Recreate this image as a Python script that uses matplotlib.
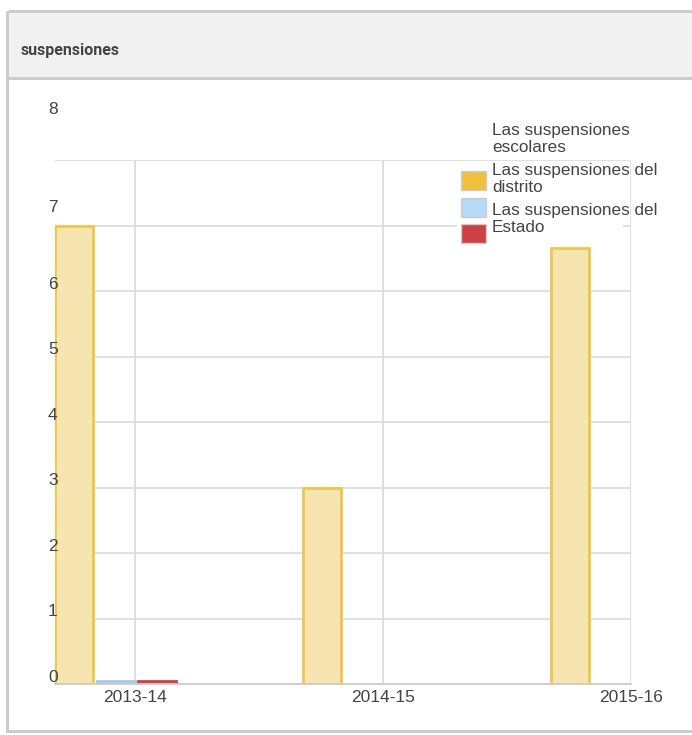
import numpy as np
import matplotlib.pyplot as plt
from matplotlib.patches import Rectangle

# Datos
years = ['2013-14', '2014-15', '2015-16']
series_names = ['Las suspensiones\nescolares',
                'Las suspensiones del\ndistrito',
                'Las suspensiones del\nEstado']
school = [7.0, 3.0, 6.65]
district = [0.05, 0.0, 0.0]
state = [0.05, 0.0, 0.0]
y_ticks = [0, 1, 2, 3, 4, 5, 6, 7, 8]

# Estilos
fills = ['#f6e5b0', '#cfe3f3', '#d9787c']
edges = ['#efc64c', '#a9c9e2', '#c2454b']
swatch = ['#f0c03e', '#b5d9f6', '#cc4242']
grid_c = '#dddddd'
text_c = '#444444'
plt.rcParams['font.family'] = ['Liberation Sans', 'DejaVu Sans']

W, H = 692, 735
fig = plt.figure(figsize=(W / 100, H / 100), dpi=100)


def fx(px):
    return px / W


def fy(py):
    return 1 - py / H


def box(x0, y0, x1, y1, color, z=1, ec='none', lw=0):
    fig.patches.append(Rectangle((fx(x0), fy(y1)), fx(x1) - fx(x0), fy(y0) - fy(y1),
                                 transform=fig.transFigure, facecolor=color,
                                 edgecolor=ec, linewidth=lw, zorder=z))


# Panel y cabecera
box(9, 13, W, 77, '#f1f1f1', z=-1)
box(9, 10, W, 13, '#cccccc', z=-1)
box(9, 77, W, 80, '#cccccc', z=-1)
box(6, 11, 9, 733, '#cccccc', z=-1)
box(6, 730, W, 733, '#cccccc', z=-1)
fig.text(fx(21), fy(50), 'suspensiones', fontsize=11.5, fontweight='bold',
         family=['Roboto', 'DejaVu Sans'], color=text_c, va='center', ha='left')

# Ejes
left, right, top, bottom = 55, 631, 160, 684
ax = fig.add_axes([fx(left), fy(bottom), fx(right) - fx(left), fy(top) - fy(bottom)])

x = np.arange(len(years))
width = 0.153
step = 0.168
for k, vals in enumerate([school, district, state]):
    vals = np.array(vals)
    keep = vals > 0
    ax.bar(x[keep] + k * step, vals[keep], width=width, align='edge', color=fills[k],
           edgecolor=edges[k], linewidth=2, zorder=2)

ax.set_xlim(0, 2.3226)
ax.set_ylim(0, 8)
ax.set_xticks(x + 0.3226)
ax.set_xticklabels(years, fontsize=12.5, color=text_c)
ax.set_yticks(y_ticks)
ax.set_yticklabels([])
ax.tick_params(length=0, pad=4)
ax.grid(True, color=grid_c, linewidth=1.3, zorder=0)
ax.set_axisbelow(True)
for s in ['top', 'left', 'right']:
    ax.spines[s].set_visible(False)
ax.spines['bottom'].set_color('#cccccc')
ax.spines['bottom'].set_linewidth(1.3)

# Etiquetas del eje y (desplazadas como en el original)
label_shift = {7: 12, 8: 44}
for v in y_ticks:
    ax.annotate(str(v), xy=(0, v), xycoords=('axes fraction', 'data'),
                xytext=(-7, 6.5 + label_shift.get(v, 0)), textcoords='offset pixels',
                ha='left', va='center', fontsize=12.5, color=text_c)

# Leyenda
box(457, 163, 623, 246, 'white', z=1)
for k, name in enumerate(series_names):
    ty = 129 + k * 40
    fig.text(fx(492), fy(ty + 10), name, fontsize=12.3, color=text_c,
             va='center', ha='left', linespacing=1.2, zorder=3)
    sy = 171 + k * 26.7
    box(461, sy, 486, sy + 19, swatch[k], z=2, ec='#cccccc', lw=1)

fig.savefig('out.png', dpi=100)
